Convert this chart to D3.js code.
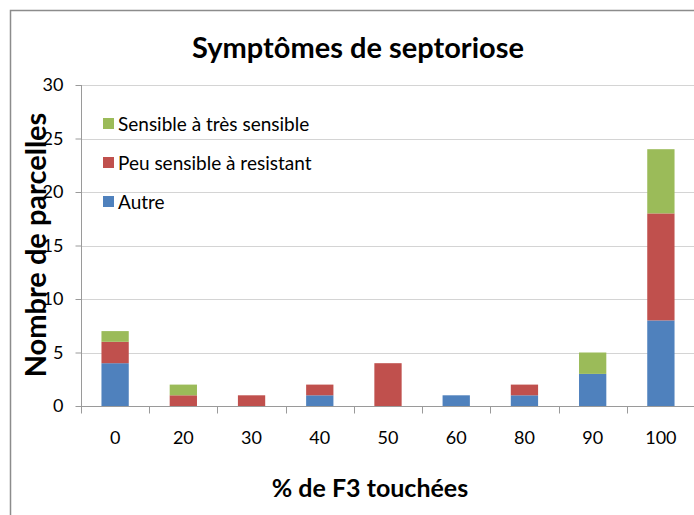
<!DOCTYPE html>
<html>
<head>
<meta charset="utf-8">
<script src="https://cdn.jsdelivr.net/npm/d3@7"></script>
<style>
  body { margin: 0; background: #fff; }
  svg { display: block; font-family: Lato, "Open Sans", sans-serif; }
</style>
</head>
<body>
<div id="chart"><svg></svg></div>
<script>
// categories (% de F3 touchées)
var categories = ["0", "20", "30", "40", "50", "60", "80", "90", "100"];
var seriesNames = ["Autre", "Peu sensible à resistant", "Sensible à très sensible"];
var autre = [4, 0, 0, 1, 0, 1, 1, 3, 8];
var peuSensible = [2, 1, 1, 1, 4, 0, 1, 0, 10];
var sensible = [1, 1, 0, 0, 0, 0, 0, 2, 6];
var yTicks = [0, 5, 10, 15, 20, 25, 30];
var colors = ["#4f81bd", "#c0504d", "#9bbb59"];

var width = 694, height = 515;
var svg = d3.select("#chart svg").attr("width", width).attr("height", height);

// outer frame (cut off on the right and bottom)
svg.append("path")
  .attr("d", "M10.5,515 L10.5,10.5 L694,10.5")
  .attr("fill", "none")
  .attr("stroke", "#8c8c8c")
  .attr("stroke-width", 1.5);

var x = d3.scaleBand().domain(categories).range([81, 695]).paddingInner(0.6).paddingOuter(0.3);
var xb = d3.scaleBand().domain(categories).range([81, 695]);
var y = d3.scaleLinear().domain([0, 30]).range([406, 85]);

// gridlines
svg.append("g").selectAll("line")
  .data(yTicks.slice(1))
  .enter().append("line")
  .attr("x1", 81).attr("x2", 695)
  .attr("y1", function(d) { return Math.round(y(d)) + 0.5; })
  .attr("y2", function(d) { return Math.round(y(d)) + 0.5; })
  .attr("stroke", "#d4d4d4");

// y axis
var yAxis = svg.append("g")
  .attr("transform", "translate(81.5,0)")
  .call(d3.axisLeft(y).tickValues(yTicks).tickSize(6).tickPadding(12));
yAxis.selectAll("line, path").attr("stroke", "#9a9a9a");
yAxis.select(".domain").attr("d", "M0," + y(30) + "V" + y(0));
yAxis.selectAll("text").attr("font-size", 18).attr("fill", "#000").attr("font-family", "Lato, sans-serif");

// stacked bars
var rows = categories.map(function(c, i) {
  return {cat: c, a: autre[i], p: peuSensible[i], s: sensible[i]};
});
var stack = d3.stack().keys(["a", "p", "s"])(rows);

svg.append("g").selectAll("g")
  .data(stack)
  .enter().append("g")
  .attr("fill", function(d, i) { return colors[i]; })
  .selectAll("rect")
  .data(function(d) { return d; })
  .enter().append("rect")
  .attr("x", function(d) { return x(d.data.cat); })
  .attr("width", x.bandwidth())
  .attr("y", function(d) { return y(d[1]); })
  .attr("height", function(d) { return y(d[0]) - y(d[1]); });

// x axis
var xAxis = svg.append("g")
  .attr("transform", "translate(0," + (Math.round(y(0)) + 0.5) + ")");
xAxis.append("line").attr("x1", 81).attr("x2", 695).attr("stroke", "#9a9a9a");
xAxis.selectAll(".tk")
  .data(categories)
  .enter().append("line")
  .attr("class", "tk")
  .attr("x1", function(d) { return Math.round(xb(d)) + 0.5; })
  .attr("x2", function(d) { return Math.round(xb(d)) + 0.5; })
  .attr("y1", 0).attr("y2", 7)
  .attr("stroke", "#9a9a9a");
xAxis.selectAll("text")
  .data(categories)
  .enter().append("text")
  .attr("x", function(d) { return xb(d) + xb.bandwidth() / 2; })
  .attr("y", 37)
  .attr("text-anchor", "middle")
  .attr("font-size", 18)
  .text(function(d) { return d; });

// title & axis titles
svg.append("text")
  .attr("x", 358).attr("y", 58)
  .attr("text-anchor", "middle")
  .attr("font-size", 29).attr("font-weight", "bold")
  .text("Symptômes de septoriose");

svg.append("text")
  .attr("transform", "translate(46,245) rotate(-90)")
  .attr("text-anchor", "middle")
  .attr("font-size", 29).attr("font-weight", "bold")
  .text("Nombre de parcelles");

svg.append("text")
  .attr("x", 370).attr("y", 497)
  .attr("text-anchor", "middle")
  .attr("font-size", 25).attr("font-weight", "bold")
  .text("% de F3 touchées");

// legend
var legendItems = [2, 1, 0];
var legend = svg.append("g").selectAll("g")
  .data(legendItems)
  .enter().append("g")
  .attr("transform", function(d, i) { return "translate(103," + (124 + i * 39) + ")"; });
legend.append("rect")
  .attr("x", 0).attr("y", -6).attr("width", 11).attr("height", 11)
  .attr("fill", function(d) { return colors[d]; });
legend.append("text")
  .attr("x", 15).attr("y", 7)
  .attr("font-size", 19)
  .text(function(d) { return seriesNames[d]; });
</script>
</body>
</html>
